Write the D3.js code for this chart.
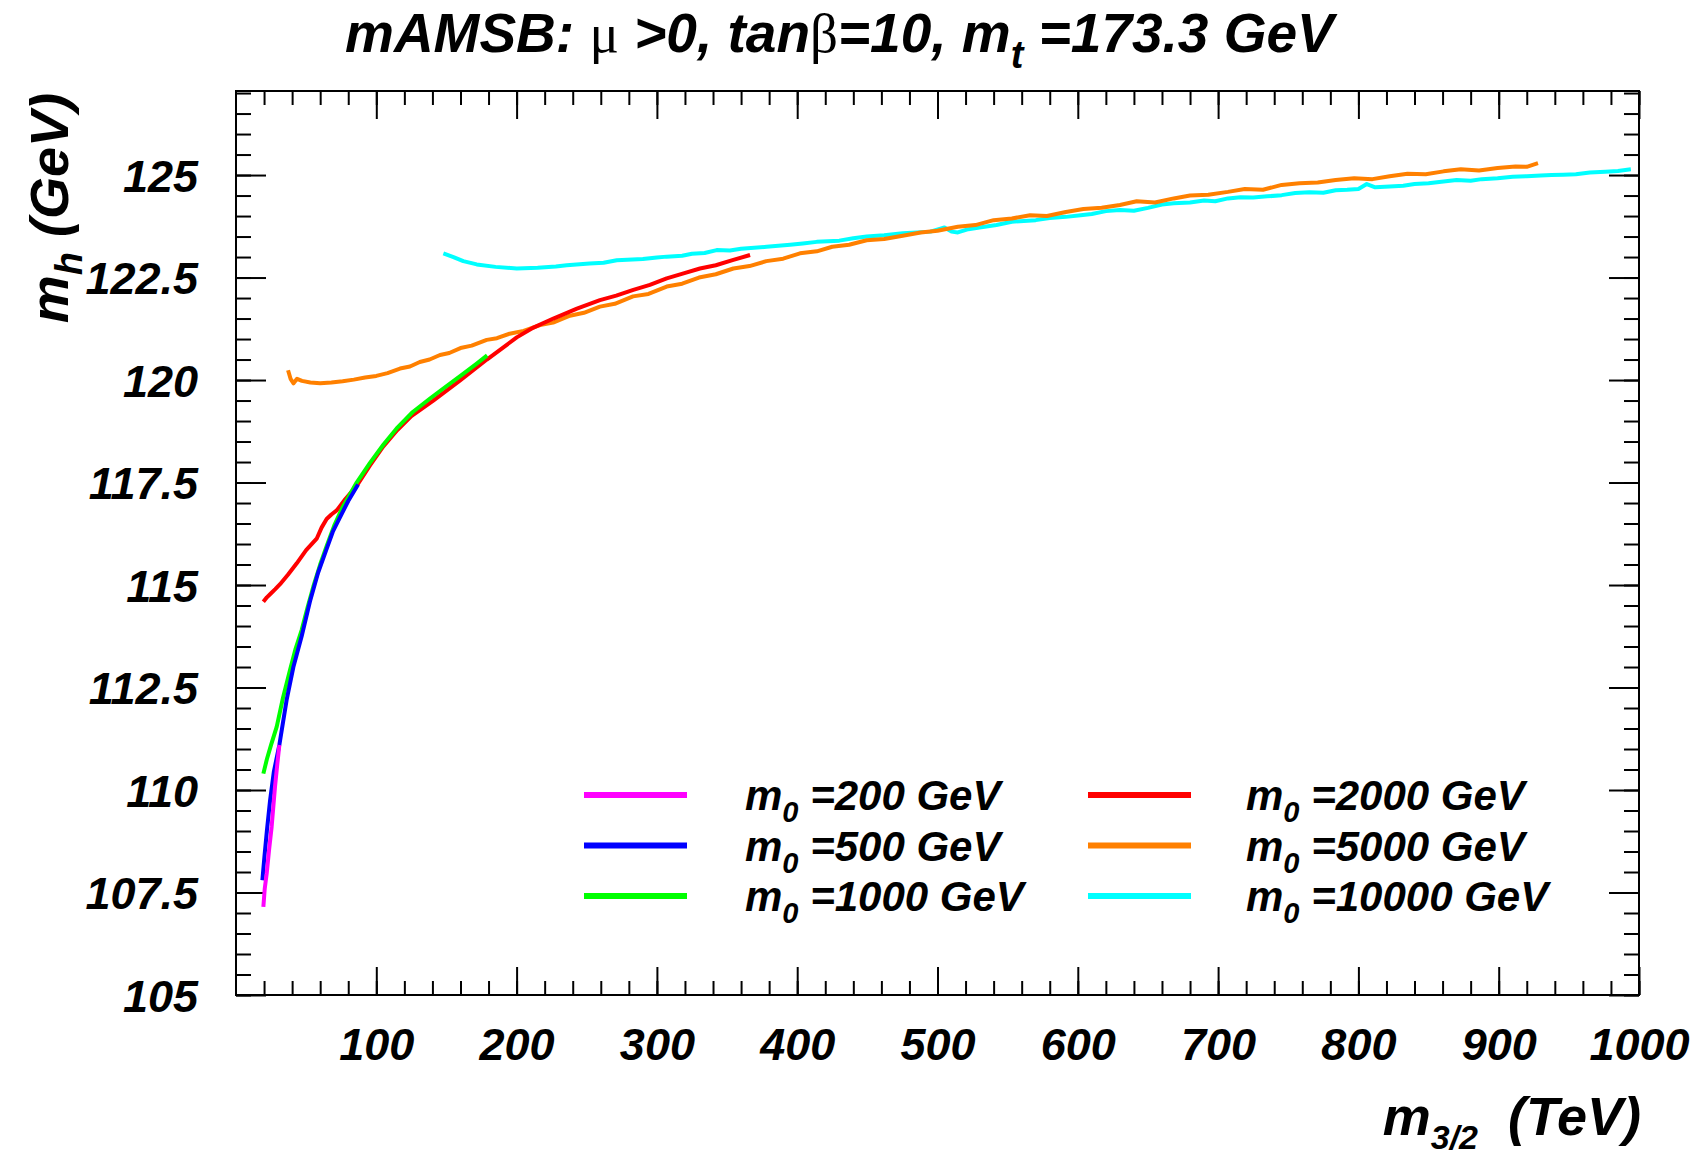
<!DOCTYPE html>
<html>
<head>
<meta charset="utf-8">
<script src="https://cdn.jsdelivr.net/npm/d3@7"></script>
<style>
  html, body { margin: 0; padding: 0; background: #fff; }
  svg { display: block; }
  text { font-family: "Liberation Sans", Arial, Helvetica, sans-serif; font-weight: bold; font-style: italic; fill: #000; }
  .greek { font-family: "Liberation Serif", "DejaVu Serif", serif; font-weight: normal; font-style: normal; }
  .axis line { stroke: #000; stroke-width: 2; }
  .axis .domain { display: none; }
</style>
</head>
<body>
<svg id="chart" width="1695" height="1157"></svg>
<script>
// Axis ticks
const xMajorTicks = [100, 200, 300, 400, 500, 600, 700, 800, 900, 1000];
const yMajorTicks = [105, 107.5, 110, 112.5, 115, 117.5, 120, 122.5, 125];
const yTickLabels = ["105", "107.5", "110", "112.5", "115", "117.5", "120", "122.5", "125"];

// Legend entries (m0 in GeV) and line colours
const m0Labels = ["200", "500", "1000", "2000", "5000", "10000"];
const m0Colors = ["#ff00ff", "#0000ff", "#00ff00", "#ff0000", "#ff8000", "#00ffff"];

// Light Higgs mass m_h (GeV) versus gravitino mass m_3/2 (TeV), one scan per m0
const m0_200 = [[19.5,107.15],[20.5,107.6],[21.9,107.97],[23.6,108.55],[25.4,109.1],[27.8,110.08],[29.5,110.65],[30.9,111.1]];

const m0_500 = [[18.8,107.8],[20.2,108.35],[22,109.0],[24.3,109.75],[27,110.45],[30.9,111.1],[36.1,112.2],[40.9,113.0],
  [46.8,113.75],[52.7,114.6],[58.5,115.3],[64.6,115.88],[69,116.3],[74.1,116.65],[80,117.05],[87,117.45]];

const m0_1000 = [[19.5,110.4],[22,110.75],[25,111.1],[29,111.54],[33.5,112.25],[38.5,112.93],[42.5,113.45],[46.8,113.9],
  [51,114.45],[55.1,114.96],[60,115.5],[64.6,115.95],[70,116.45],[76,116.9],[86,117.5],[95.5,117.98],[105,118.42],
  [114.5,118.82],[126,119.22],[138.3,119.55],[148,119.8],[160,120.1],[171.6,120.4],[179,120.6]];

const m0_2000 = [[19.5,114.59],[22,114.7],[25,114.8],[28,114.9],[31.4,115.02],[37,115.25],[43.3,115.53],[50,115.85],
  [57.5,116.13],[61,116.4],[64.6,116.61],[68,116.72],[71.8,116.82],[78,117.1],[86,117.42],[95.5,117.92],[105,118.38],
  [115,118.78],[125,119.12],[140.6,119.5],[160,120.0],[178.8,120.5],[200.1,121.04],[212,121.28],[226.2,121.5],
  [243,121.74],[259.4,121.95],[271,122.06],[283.2,122.2],[295,122.32],[307,122.48],[319,122.6],[330.7,122.72],
  [342,122.8],[354.5,122.93],[366.4,123.05]];

const m0_5000 = [[37.1,120.24],[39,120.02],[41,119.92],[43.5,120.03],[47,119.98],[53,119.94],[60,119.92],[68,119.94],
  [76,119.97],[84,120.01],[92,120.06],[100,120.1],[108,120.17],[116.9,120.28],[124,120.33],[131,120.44],[138,120.5],
  [145.4,120.61],[152,120.66],[160,120.78],[168,120.84],[178.7,120.98],[186,121.02],[195,121.13],[205,121.2],
  [216.7,121.34],[226,121.4],[238,121.57],[248,121.64],[259.4,121.79],[270,121.86],[283,122.04],[294,122.1],
  [307,122.28],[318,122.35],[330,122.5],[342,122.58],[354.5,122.72],[366,122.78],[378,122.9],[390,122.96],
  [402,123.09],[414,123.14],[425,123.25],[437,123.3],[449.5,123.41],[462,123.44],[475.2,123.52],[488,123.6],
  [500,123.64],[514.5,123.74],[527,123.78],[540,123.9],[553,123.94],[566,124.02],[578,124.0],[591.5,124.1],
  [604,124.17],[617,124.2],[630,124.27],[642,124.36],[655,124.33],[668.4,124.43],[680,124.5],[693,124.52],
  [707,124.59],[719,124.66],[732,124.64],[745.3,124.76],[758,124.8],[771,124.82],[783.8,124.88],[797,124.92],
  [810,124.9],[822.3,124.97],[835,125.03],[848,125.02],[860.7,125.09],[873,125.14],[886,125.11],[899.2,125.17],
  [912,125.21],[920,125.2],[928,125.29]];

const m0_10000 = [[147.8,123.09],[155,123.0],[162,122.9],[171.6,122.82],[185,122.76],[200.1,122.72],[215,122.74],
  [228,122.77],[235.7,122.8],[252,122.84],[262,122.86],[271.4,122.92],[290,122.95],[300,122.99],[307,123.01],
  [318,123.03],[325,123.08],[334,123.1],[342.6,123.17],[352,123.16],[360,123.2],[378.2,123.25],[395,123.3],
  [404,123.33],[413.9,123.37],[430,123.4],[440,123.46],[449.5,123.5],[462,123.53],[475.2,123.58],[495,123.62],
  [505,123.72],[510,123.62],[514.5,123.6],[522,123.68],[530,123.72],[542,123.78],[553,123.86],[570,123.9],
  [580,123.95],[591.5,123.98],[602,124.02],[610,124.05],[620,124.12],[630,124.15],[640,124.13],[650,124.2],
  [660,124.28],[668.4,124.31],[680,124.33],[690,124.38],[698,124.36],[707,124.43],[716,124.46],[725,124.45],
  [735,124.48],[745.3,124.51],[755,124.56],[765,124.58],[775,124.57],[783.8,124.63],[792,124.64],[800,124.66],
  [806,124.78],[812,124.7],[822.3,124.72],[832,124.74],[840,124.78],[850,124.8],[860.7,124.84],[870,124.88],
  [880,124.86],[888,124.9],[899.2,124.92],[910,124.96],[920,124.97],[930,124.99],[937.6,125.0],[946,125.01],
  [955,125.02],[965,125.06],[976,125.08],[985,125.1],[994.2,125.14]];

const m0Series = [m0_200, m0_500, m0_1000, m0_2000, m0_5000, m0_10000];

// ---- layout ----
const frame = { left: 236, right: 1639, top: 91, bottom: 995 };
const svg = d3.select("#chart");
svg.append("rect").attr("width", 1695).attr("height", 1157).attr("fill", "#fff");

const x = d3.scaleLinear().domain([0, 1000]).range([frame.left, frame.right]);
const y = d3.scaleLinear().domain([105, 127.05]).range([frame.bottom, frame.top]);

const xMinor = d3.range(20, 1001, 20);
const yMinor = d3.range(105, 127.01, 0.5);

// Bottom axis with labels, ticks pointing into the frame
const gBottom = svg.append("g").attr("class", "axis")
  .attr("transform", `translate(0,${frame.bottom})`)
  .call(d3.axisBottom(x).tickValues(xMajorTicks).tickSize(-28).tickPadding(33).tickFormat(d3.format("d")));
gBottom.selectAll("text").attr("font-size", 45);
svg.append("g").attr("class", "axis").attr("transform", `translate(0,${frame.bottom})`)
  .call(d3.axisBottom(x).tickValues(xMinor).tickSize(-14).tickFormat(""));

// Top axis mirror ticks
svg.append("g").attr("class", "axis").attr("transform", `translate(0,${frame.top})`)
  .call(d3.axisTop(x).tickValues(xMajorTicks).tickSize(-28).tickFormat(""));
svg.append("g").attr("class", "axis").attr("transform", `translate(0,${frame.top})`)
  .call(d3.axisTop(x).tickValues(xMinor).tickSize(-14).tickFormat(""));

// Left axis with labels
const gLeft = svg.append("g").attr("class", "axis")
  .attr("transform", `translate(${frame.left},0)`)
  .call(d3.axisLeft(y).tickValues(yMajorTicks).tickSize(-30).tickPadding(38)
    .tickFormat((d, i) => yTickLabels[i]));
gLeft.selectAll("text").attr("font-size", 45).attr("dy", "0.36em");
svg.append("g").attr("class", "axis").attr("transform", `translate(${frame.left},0)`)
  .call(d3.axisLeft(y).tickValues(yMinor).tickSize(-15).tickFormat(""));

// Right axis mirror ticks
svg.append("g").attr("class", "axis").attr("transform", `translate(${frame.right},0)`)
  .call(d3.axisRight(y).tickValues(yMajorTicks).tickSize(-30).tickFormat(""));
svg.append("g").attr("class", "axis").attr("transform", `translate(${frame.right},0)`)
  .call(d3.axisRight(y).tickValues(yMinor).tickSize(-15).tickFormat(""));

// Frame
svg.append("rect")
  .attr("x", frame.left).attr("y", frame.top)
  .attr("width", frame.right - frame.left).attr("height", frame.bottom - frame.top)
  .attr("fill", "none").attr("stroke", "#000").attr("stroke-width", 2);

// Curves: drawn from the largest m0 to the smallest
svg.append("clipPath").attr("id", "plotClip").append("rect")
  .attr("x", frame.left).attr("y", frame.top)
  .attr("width", frame.right - frame.left).attr("height", frame.bottom - frame.top);
const line = d3.line().x(d => x(d[0])).y(d => y(d[1]));
const curves = svg.append("g").attr("clip-path", "url(#plotClip)");
for (let i = m0Series.length - 1; i >= 0; i--) {
  curves.append("path").datum(m0Series[i])
    .attr("d", line).attr("fill", "none")
    .attr("stroke", m0Colors[i]).attr("stroke-width", 4)
    .attr("stroke-linejoin", "round").attr("stroke-linecap", "butt");
}

// Legend: two columns of three entries
const legend = svg.append("g");
m0Labels.forEach((lab, i) => {
  const col = Math.floor(i / 3), row = i % 3;
  const lx = col === 0 ? 584 : 1088;
  const tx = col === 0 ? 745 : 1246;
  const ly = 795 + row * 50.5;
  legend.append("line").attr("x1", lx).attr("x2", lx + 103).attr("y1", ly).attr("y2", ly)
    .attr("stroke", m0Colors[i]).attr("stroke-width", 6);
  const t = legend.append("text").attr("x", tx).attr("y", ly + 15).attr("font-size", 42);
  t.append("tspan").text("m");
  t.append("tspan").attr("font-size", 29).attr("dy", 12).text("0");
  t.append("tspan").attr("dy", -12).text(" =" + lab + " GeV");
});

// Title
const title = svg.append("text").attr("x", 345).attr("y", 52).attr("font-size", 55);
title.append("tspan").text("mAMSB: ");
title.append("tspan").attr("class", "greek").text("\u03bc");
title.append("tspan").text(" >0, tan");
title.append("tspan").attr("class", "greek").text("\u03b2");
title.append("tspan").text("=10, m");
title.append("tspan").attr("font-size", 38).attr("dy", 16).text("t");
title.append("tspan").attr("dy", -16).text(" =173.3 GeV");

// X axis title
const xt = svg.append("text").attr("x", 1641).attr("y", 1135).attr("font-size", 54).attr("text-anchor", "end");
xt.append("tspan").text("m");
xt.append("tspan").attr("font-size", 34).attr("dy", 14).text("3/2");
xt.append("tspan").attr("dy", -14).text("\u00a0\u00a0(TeV)");

// Y axis title
const yt = svg.append("text").attr("transform", "translate(68,93) rotate(-90)")
  .attr("font-size", 54).attr("text-anchor", "end");
yt.append("tspan").text("m");
yt.append("tspan").attr("font-size", 38).attr("dy", 14).text("h");
yt.append("tspan").attr("dy", -14).text(" (GeV)");
</script>
</body>
</html>
